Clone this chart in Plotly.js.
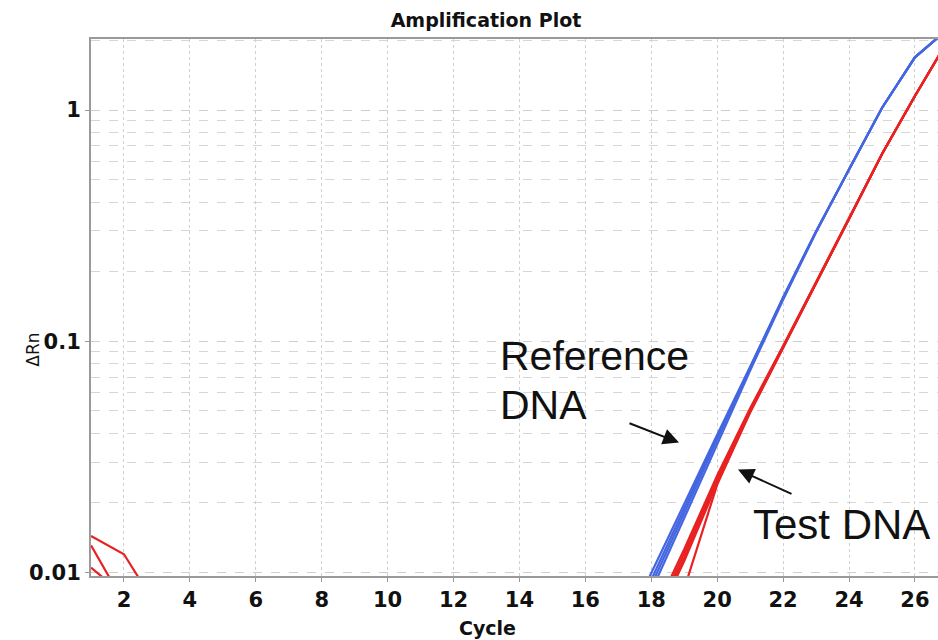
<!DOCTYPE html>
<html>
<head>
<meta charset="utf-8">
<script src="https://cdn.plot.ly/plotly-3.0.1.min.js"></script>
<style>html,body{margin:0;padding:0;background:#fff;}#chart{width:938px;height:640px;}</style>
</head>
<body>
<div id="chart"></div>
<script>
// ---- data ----
var cycles = [1,2,3,4,5,6,7,8,9,10,11,12,13,14,15,16,17,18,19,20,21,22,23,24,25,26,27];

// Reference DNA replicates (blue)
var refA = [0.0048,0.0052,0.0045,0.0050,0.0047,0.0053,0.0049,0.0046,0.0051,0.0048,0.0050,0.0047,0.0049,0.0052,0.0048,0.0050,0.0050,0.0100,0.0200,0.0394,0.0776,0.155,0.299,0.556,1.02,1.69,2.24];
var refB = [0.0046,0.0050,0.0048,0.0047,0.0051,0.0049,0.0046,0.0050,0.0048,0.0047,0.0049,0.0051,0.0046,0.0048,0.0050,0.0047,0.0048,0.0093,0.0190,0.0385,0.0770,0.154,0.298,0.555,1.02,1.69,2.24];
var refC = [0.0044,0.0047,0.0049,0.0046,0.0048,0.0045,0.0050,0.0047,0.0046,0.0049,0.0047,0.0045,0.0048,0.0046,0.0047,0.0045,0.0045,0.0088,0.0181,0.0376,0.0762,0.153,0.297,0.555,1.02,1.69,2.24];
var refD = [0.0042,0.0045,0.0043,0.0046,0.0044,0.0047,0.0043,0.0045,0.0044,0.0042,0.0046,0.0044,0.0043,0.0045,0.0042,0.0044,0.0042,0.0083,0.0172,0.0362,0.0748,0.151,0.296,0.554,1.02,1.69,2.24];

// Test DNA replicates (red)
var testA = [0.0144,0.0120,0.0071,0.0052,0.0049,0.0051,0.0048,0.0050,0.0047,0.0049,0.0051,0.0048,0.0050,0.0047,0.0049,0.0048,0.0040,0.0063,0.0126,0.0263,0.0513,0.0955,0.180,0.339,0.645,1.15,2.00];
var testB = [0.0131,0.0074,0.0050,0.0048,0.0051,0.0047,0.0049,0.0052,0.0048,0.0046,0.0049,0.0050,0.0047,0.0048,0.0050,0.0046,0.0038,0.0060,0.0121,0.0256,0.0505,0.0945,0.179,0.338,0.645,1.15,2.00];
var testC = [0.0105,0.0080,0.0049,0.0047,0.0050,0.0048,0.0046,0.0049,0.0047,0.0050,0.0048,0.0046,0.0049,0.0047,0.0046,0.0048,0.0037,0.0058,0.0116,0.0249,0.0498,0.0940,0.178,0.338,0.645,1.15,2.00];
var testD = [0.0062,0.0058,0.0047,0.0049,0.0046,0.0050,0.0048,0.0047,0.0049,0.0046,0.0048,0.0047,0.0050,0.0046,0.0048,0.0047,0.0036,0.0056,0.0112,0.0243,0.0492,0.0935,0.178,0.337,0.644,1.15,2.00];
var testE = [0.0055,0.0052,0.0046,0.0048,0.0047,0.0046,0.0049,0.0045,0.0047,0.0048,0.0046,0.0049,0.0047,0.0045,0.0047,0.0046,0.0035,0.0040,0.0085,0.0240,0.0495,0.0940,0.178,0.337,0.644,1.15,2.00];

var xTickVals = [2,4,6,8,10,12,14,16,18,20,22,24,26];
var yTickVals = [0.01, 0.1, 1];
var yTickText = ['0.01', '0.1', '1'];
var yMinorVals = [0.02,0.03,0.04,0.05,0.06,0.07,0.08,0.09,0.2,0.3,0.4,0.5,0.6,0.7,0.8,0.9,2];

var titleText = 'Amplification Plot';
var xTitle = 'Cycle';
var yTitle = '\u0394Rn';
var refLabel1 = 'Reference';
var refLabel2 = 'DNA';
var testLabel = 'Test DNA';

// ---- traces ----
var BLUE = '#4466e0';
var RED = '#e82222';
function tr(y, color) {
  return {x: cycles, y: y, type: 'scatter', mode: 'lines',
          line: {color: color, width: 2.2}, hoverinfo: 'skip', showlegend: false};
}
var data = [
  tr(refA, BLUE), tr(refB, BLUE), tr(refC, BLUE), tr(refD, BLUE),
  tr(testA, RED), tr(testB, RED), tr(testC, RED), tr(testD, RED), tr(testE, RED)
];

// plot area in pixels: left 91, right 938, top 39, bottom 576.5
var L = 91, R = 938, T = 39, B = 576.5;
function px(xp) { return (xp - L) / (R - L); }
function py(yp) { return 1 - (yp - T) / (B - T); }

var SANS = 'DejaVu Sans, Verdana, sans-serif';
var textFont = {family: 'Liberation Sans, Arial, sans-serif', size: 41, color: '#111'};
var boldFont = {family: SANS, size: 19, color: '#111', weight: 'bold'};

var layout = {
  width: 938, height: 640,
  margin: {l: 91, r: 0, t: 39, b: 63.5, pad: 0},
  paper_bgcolor: '#ffffff', plot_bgcolor: '#ffffff',
  showlegend: false,
  title: {text: titleText, font: {family: SANS, size: 19, color: '#111', weight: 'bold'},
          x: 486 / 938, xref: 'container', xanchor: 'center', y: 1 - 20 / 640, yref: 'container', yanchor: 'middle'},
  xaxis: {
    range: [1, 26.70], tickvals: xTickVals, ticks: 'outside', ticklen: 4, tickcolor: '#999', tickwidth: 1,
    tickfont: {family: SANS, size: 21, color: '#111', weight: 'bold'},
    showgrid: true, gridcolor: '#cfcfcf', griddash: 'dot', gridwidth: 1,
    showline: true, linecolor: '#9a9a9a', linewidth: 2, mirror: true, zeroline: false, fixedrange: true
  },
  yaxis: {
    type: 'log', range: [-2.015, 0.307], tickvals: yTickVals, ticktext: yTickText,
    ticks: 'outside', ticklen: 4, tickcolor: '#999', tickwidth: 1,
    tickfont: {family: SANS, size: 21, color: '#111', weight: 'bold'},
    showgrid: true, gridcolor: '#cfcfcf', griddash: 'dash', gridwidth: 1,
    minor: {tickvals: yMinorVals, showgrid: true, gridcolor: '#d6d6d6', griddash: 'dash', gridwidth: 1, ticks: ''},
    showline: true, linecolor: '#9a9a9a', linewidth: 2, mirror: false, zeroline: false, fixedrange: true
  },
  annotations: [
    {text: xTitle, xref: 'paper', yref: 'paper', x: px(487), y: py(629), xanchor: 'center', yanchor: 'middle',
     showarrow: false, font: boldFont},
    {text: yTitle, xref: 'paper', yref: 'paper', x: px(33), y: py(350), xanchor: 'center', yanchor: 'middle',
     textangle: -90, showarrow: false, font: {family: SANS, size: 17, color: '#111'}},
    {text: refLabel1, xref: 'paper', yref: 'paper', x: px(498), y: py(356), xanchor: 'left', yanchor: 'middle',
     showarrow: false, font: textFont},
    {text: refLabel2, xref: 'paper', yref: 'paper', x: px(498), y: py(405), xanchor: 'left', yanchor: 'middle',
     showarrow: false, font: textFont},
    {text: testLabel, xref: 'paper', yref: 'paper', x: px(751), y: py(525), xanchor: 'left', yanchor: 'middle',
     showarrow: false, font: {family: 'Liberation Sans, Arial, sans-serif', size: 42, color: '#111'}},
    {text: '', xref: 'paper', yref: 'paper', x: px(679), y: py(443), ax: -51, ay: -20,
     showarrow: true, arrowhead: 2, arrowsize: 1.6, arrowwidth: 2, arrowcolor: '#111', standoff: 0},
    {text: '', xref: 'paper', yref: 'paper', x: px(738), y: py(470), ax: 55, ay: 25,
     showarrow: true, arrowhead: 2, arrowsize: 1.6, arrowwidth: 2, arrowcolor: '#111', standoff: 0}
  ]
};

Plotly.newPlot('chart', data, layout, {displayModeBar: false, staticPlot: true});
</script>
</body>
</html>
